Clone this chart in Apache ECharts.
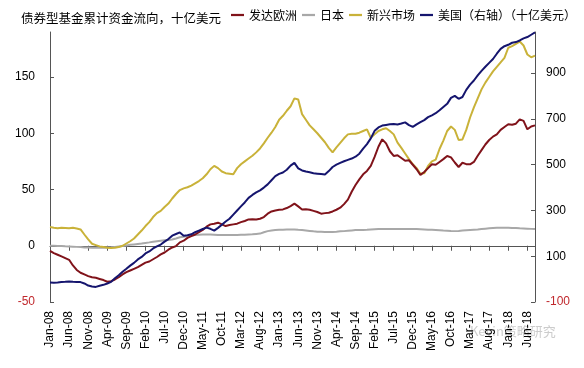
<!DOCTYPE html>
<html><head><meta charset="utf-8">
<script src="https://cdn.jsdelivr.net/npm/echarts@6/dist/echarts.min.js"></script>
<style>html,body{margin:0;padding:0;background:#fff}#c{width:584px;height:368px}</style>
</head><body><div id="c"></div>
<script>
// Categories: monthly, Jan-08 .. Aug-18
const monthNames = ['Jan','Feb','Mar','Apr','May','Jun','Jul','Aug','Sep','Oct','Nov','Dec'];
const categories = [];
for (let y = 8; y <= 18; y++) {
  for (let m = 0; m < 12; m++) {
    if (categories.length < 128) categories.push(monthNames[m] + '-' + String(y).padStart(2, '0'));
  }
}
const seriesNames = ['发达欧洲', '日本', '新兴市场', '美国（右轴）（十亿美元）'];
const titleText = '债券型基金累计资金流向，十亿美元';

// Developed Europe (left axis, bn USD)
const europe = [-4.5,-6.5,-8,-9.5,-11,-12.5,-17.5,-21.5,-24,-25.5,-27,-28,-28.5,-29.5,-30.5,-32,-31.5,-30,-28,-25.5,
-23.5,-22,-20.5,-19,-17,-15,-14,-12,-10,-7.7,-6,-3.5,-1.5,-0.3,3,4.5,7,8.5,10,12,
14,17,19,19.6,20.5,19,17.5,18.4,19,19.6,21,22,23.4,23.5,23.4,24,25.5,28.5,30.5,31.4,
32,32.3,33.5,35.3,37.4,35,32.3,32.5,32,31,30,28.5,29,29.4,30.5,32,33.8,37,41,48,
54,59,63.5,66.5,71,79,88,94.6,91,84,79.8,80.5,78,75.5,76,72,68,63,65.5,69,
72.4,72,74.5,77,79.8,78.5,74,70,73.8,72.5,72.4,74.5,80,85,90,94,97,99,103,105.5,
108,107.5,108.5,112.4,111,103.5,106,107];
// Japan (left axis)
const japan = [0,0,-0.2,-0.3,-0.5,-0.6,-0.8,-1,-1.2,-1.5,-1.6,-1.8,-1.8,-1.8,-1.8,-1.6,-1.4,-1,-0.6,-0.2,
0.3,0.8,1.2,1.6,2,2.5,3,3.6,4,4.4,4.8,5.2,5.6,6.5,7.5,8,8.6,9.2,9.5,9.8,
10,10,10,9.8,9.6,9.5,9.5,9.5,9.5,9.5,9.7,9.8,10,10.2,10.5,10.8,12,13,13.6,13.9,
14.2,14.3,14.4,14.5,14.5,14.2,14,13.6,13.2,12.8,12.5,12.4,12.3,12.2,12.3,12.5,12.8,13,13.3,13.6,
13.9,14,14.1,14.2,14.4,14.6,14.8,15,15,14.9,14.8,14.8,14.8,14.8,14.9,15,14.9,14.7,14.5,14.3,
14.2,14,13.8,13.5,13.3,13.1,13,13.2,13.5,13.8,14,14.2,14.4,14.8,15.2,15.5,15.8,16,16,16,
16,15.8,15.7,15.5,15.4,15.2,15,14.8];
// Emerging markets (left axis)
const emerging = [16.6,16,15.5,16,15.8,15.6,16,15.4,14.5,10,5.6,1.8,0.6,-0.6,-1.2,-1.8,-2,-1.8,-1.2,0,
2,4,6.5,10,13.5,17.5,21,25.5,29,31,34.5,37.5,42,46,49.5,51,52,53.5,55.5,57.5,
60,63.5,68,71,69,66,64.5,64,63.5,69,72.5,75,77.5,80,83,86.5,91,96,100.5,105.5,
112,115.5,120,124,131,130,117,112,107,103.5,100,96,92,87,83,87.5,91.5,95.5,99,99.5,
99.5,100.5,102,103.5,96,99,102,103.5,104.5,102,99,91.6,87,82,77,72.4,69,64,64.5,71,
75,76.5,86,93.5,102,106,103,94,94.5,103,114,123,131,139,145,150,155,159,163,167,
176,177.5,179.5,181.5,178,170,167.5,169];
// United States (right axis)
const us = [-15,-16,-15,-13,-12,-10,-12,-13,-13,-19,-28,-32,-34,-29,-25,-19,-12,4,17,32,
45,59,71,86,97,112,121,134,143,151,164,175,190,197,204,190,192,196,205,212,
219,225,220,212,224,238,252,264,282,300,318,335,355,368,379,388,400,414,432,450,
460,466,478,496,508,484,475,470,467,463,461,459,457,472,490,500,508,515,521,527,
535,548,570,590,615,648,663,671,674,677,678,676,680,685,673,665,676,686,695,708,
716,725,738,752,766,792,801,788,796,827,850,868,890,910,928,945,962,985,1006,1018,
1024,1033,1036,1043,1052,1058,1068,1078];

const leftTicks = { min: -50, max: 190, interval: 50 };
const rightTicks = { min: -100, max: 1080, interval: 200 };

const colors = ['#80131A', '#A8A8A8', '#C9B239', '#15156E'];
const FONT = 'Liberation Sans, Arial, sans-serif';
const CJK = 'Noto Sans CJK SC, sans-serif';
const axisColor = '#555';

const chart = echarts.init(document.getElementById('c'), null, { renderer: 'canvas' });
const lineStyle = (c) => ({ color: c, width: 2 });
chart.setOption({
  animation: false,
  backgroundColor: '#fff',
  color: colors,
  title: {
    text: titleText, left: 16, top: 7,
    textStyle: { fontFamily: CJK, fontSize: 12.5, fontWeight: 'normal', color: '#000' }
  },
  legend: {
    left: 231, top: 9, width: 420, padding: 0, itemWidth: 13, itemHeight: 12, itemGap: 5,
    icon: 'path://M0,0 L14,0 L14,2.4 L0,2.4 Z',
    textStyle: { fontFamily: CJK, fontSize: 12, color: '#000' },
    data: seriesNames
  },
  grid: { left: 50, right: 49, top: 32, bottom: 66, outerBoundsMode: 'none', containLabel: false },
  xAxis: [{
    type: 'category', data: categories, boundaryGap: false, position: 'bottom',
    axisLine: { onZero: true, lineStyle: { color: axisColor, width: 1 } },
    axisTick: { show: true, interval: 4, length: 5, lineStyle: { color: axisColor } },
    axisLabel: { show: false },
    splitLine: { show: false }
  }, {
    type: 'category', data: categories, boundaryGap: false, position: 'bottom',
    axisLine: { show: false, onZero: false },
    axisTick: { show: false },
    axisLabel: { show: true, interval: 4, rotate: 90, margin: 9, fontFamily: FONT, fontSize: 12, color: '#000' },
    splitLine: { show: false }
  }],
  yAxis: [{
    type: 'value', position: 'left', min: leftTicks.min, max: leftTicks.max, interval: leftTicks.interval,
    axisLine: { show: true, lineStyle: { color: axisColor } },
    axisTick: { show: true, inside: true, length: 4, lineStyle: { color: axisColor } },
    axisLabel: { margin: 15, fontFamily: FONT, fontSize: 12, showMaxLabel: false,
      color: (v) => (Number(v) < 0 ? '#C0282D' : '#000') },
    splitLine: { show: false }
  }, {
    type: 'value', position: 'right', min: rightTicks.min, max: rightTicks.max, interval: rightTicks.interval,
    axisLine: { show: true, lineStyle: { color: axisColor } },
    axisTick: { show: true, inside: true, length: 4, lineStyle: { color: axisColor } },
    axisLabel: { margin: 11, fontFamily: FONT, fontSize: 12, showMaxLabel: false,
      color: (v) => (Number(v) < 0 ? '#C0282D' : '#000') },
    splitLine: { show: false }
  }],
  graphic: [{
    type: 'text', left: 470, top: 325,
    style: { text: 'Kevin策略研究', fill: 'rgba(170,170,170,0.6)', font: '13px Noto Sans CJK SC, sans-serif' }
  }],
  series: [
    { name: seriesNames[0], type: 'line', data: europe, xAxisIndex: 0, yAxisIndex: 0, symbol: 'none', lineStyle: lineStyle(colors[0]), z: 3 },
    { name: seriesNames[1], type: 'line', data: japan, xAxisIndex: 0, yAxisIndex: 0, symbol: 'none', lineStyle: lineStyle(colors[1]), z: 2 },
    { name: seriesNames[2], type: 'line', data: emerging, xAxisIndex: 0, yAxisIndex: 0, symbol: 'none', lineStyle: lineStyle(colors[2]), z: 2 },
    { name: seriesNames[3], type: 'line', data: us, xAxisIndex: 0, yAxisIndex: 1, symbol: 'none', lineStyle: lineStyle(colors[3]), z: 4 }
  ]
});
</script></body></html>
